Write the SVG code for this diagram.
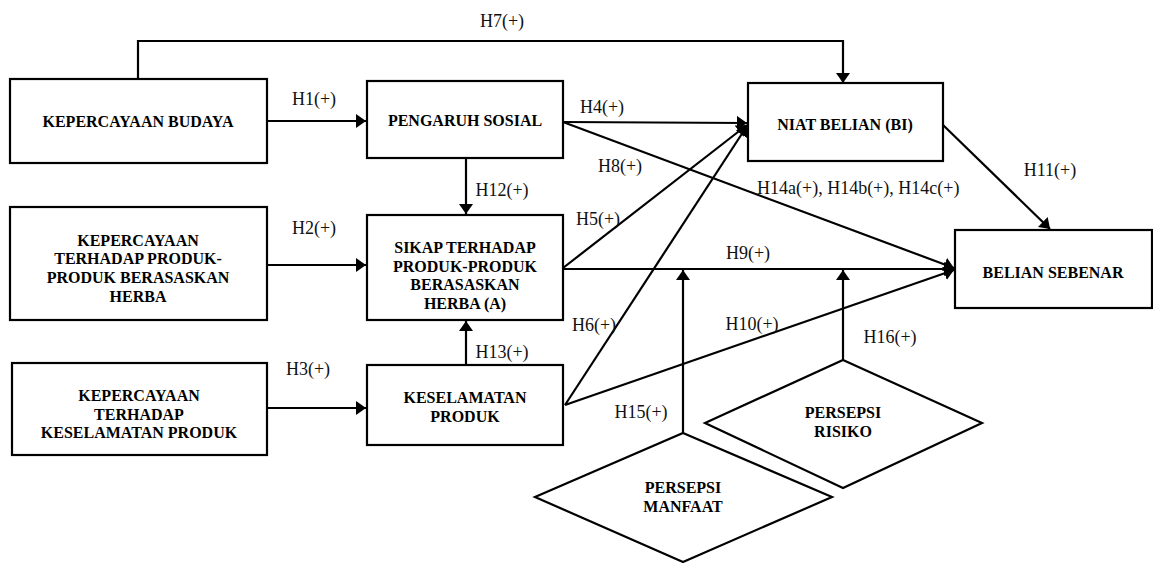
<svg xmlns="http://www.w3.org/2000/svg" width="1153" height="563" viewBox="0 0 1153 563">
<style>
.box{fill:#fff;stroke:#000;stroke-width:2.2}
.t{font-family:"Liberation Serif","Times New Roman",serif;font-weight:bold;font-size:16px;text-anchor:middle;fill:#000}
.l{font-family:"Liberation Serif","Times New Roman",serif;font-size:18px;fill:#111}
.c{fill:none;stroke:#000;stroke-width:2.2}
.m{text-anchor:middle}
</style>
<defs>
<marker id="a" viewBox="0 0 10 14" refX="10" refY="7" markerWidth="4.6" markerHeight="6.4" markerUnits="strokeWidth" orient="auto">
<path d="M0,0 L10,7 L0,14 z" fill="#000"/>
</marker>
</defs>
<rect width="1153" height="563" fill="#fff"/>
<g id="connectors">
<polyline class="c" points="138,79 138,41 843,41 843,83" marker-end="url(#a)"/>
<line class="c" x1="267" y1="121" x2="366" y2="121" marker-end="url(#a)"/>
<line class="c" x1="267" y1="265" x2="366" y2="265" marker-end="url(#a)"/>
<line class="c" x1="267" y1="408" x2="366" y2="408" marker-end="url(#a)"/>
<line class="c" x1="563" y1="122" x2="747" y2="123" marker-end="url(#a)"/>
<line class="c" x1="563" y1="268" x2="747" y2="125" marker-end="url(#a)"/>
<line class="c" x1="565" y1="405" x2="747" y2="126" marker-end="url(#a)"/>
<line class="c" x1="563" y1="122" x2="954" y2="268" marker-end="url(#a)"/>
<line class="c" x1="563" y1="269" x2="954" y2="269" marker-end="url(#a)"/>
<line class="c" x1="565" y1="405" x2="954" y2="270" marker-end="url(#a)"/>
<line class="c" x1="943" y1="125" x2="1050" y2="229" marker-end="url(#a)"/>
<line class="c" x1="466" y1="158" x2="466" y2="214" marker-end="url(#a)"/>
<line class="c" x1="466" y1="365" x2="466" y2="321" marker-end="url(#a)"/>
<line class="c" x1="683" y1="433" x2="683" y2="270" marker-end="url(#a)"/>
<line class="c" x1="843" y1="360" x2="843" y2="270" marker-end="url(#a)"/>
<text class="l m" x="502" y="27">H7(+)</text>
<text class="l m" x="314" y="105">H1(+)</text>
<text class="l m" x="314" y="234">H2(+)</text>
<text class="l m" x="308" y="375">H3(+)</text>
<text class="l m" x="602" y="113">H4(+)</text>
<text class="l m" x="598" y="225">H5(+)</text>
<text class="l m" x="594" y="331">H6(+)</text>
<text class="l m" x="620" y="172">H8(+)</text>
<text class="l m" x="748" y="259">H9(+)</text>
<text class="l m" x="752" y="330">H10(+)</text>
<text class="l m" x="1050" y="176">H11(+)</text>
<text class="l m" x="502" y="196">H12(+)</text>
<text class="l m" x="502" y="358">H13(+)</text>
<text class="l" x="757" y="194">H14a(+), H14b(+), H14c(+)</text>
<text class="l m" x="641" y="418">H15(+)</text>
<text class="l m" x="890" y="343">H16(+)</text>
</g>
<g id="kepercayaan-budaya">
<rect class="box" x="10" y="79" width="257" height="84"/>
<text class="t" x="138" y="126.5">KEPERCAYAAN BUDAYA</text>
</g>
<g id="kepercayaan-herba">
<rect class="box" x="10" y="207" width="257" height="113"/>
<text class="t" x="138" y="245.5">KEPERCAYAAN</text>
<text class="t" x="138" y="264">TERHADAP PRODUK-</text>
<text class="t" x="138" y="282.5">PRODUK BERASASKAN</text>
<text class="t" x="138" y="301.5">HERBA</text>
</g>
<g id="kepercayaan-keselamatan">
<rect class="box" x="12" y="363" width="255" height="92"/>
<text class="t" x="139" y="400.5">KEPERCAYAAN</text>
<text class="t" x="139" y="419.5">TERHADAP</text>
<text class="t" x="139" y="437.5">KESELAMATAN PRODUK</text>
</g>
<g id="pengaruh-sosial">
<rect class="box" x="367" y="81" width="196" height="77"/>
<text class="t" x="465" y="125.5">PENGARUH SOSIAL</text>
</g>
<g id="sikap">
<rect class="box" x="367" y="215" width="196" height="105"/>
<text class="t" x="465" y="252.5">SIKAP TERHADAP</text>
<text class="t" x="465" y="271.5">PRODUK-PRODUK</text>
<text class="t" x="465" y="289.5">BERASASKAN</text>
<text class="t" x="465" y="308.5">HERBA (A)</text>
</g>
<g id="keselamatan-produk">
<rect class="box" x="367" y="365" width="196" height="80"/>
<text class="t" x="465" y="402.5">KESELAMATAN</text>
<text class="t" x="465" y="421.5">PRODUK</text>
</g>
<g id="niat-belian">
<rect class="box" x="748" y="83" width="195" height="78"/>
<text class="t" x="845" y="130">NIAT BELIAN (BI)</text>
</g>
<g id="belian-sebenar">
<rect class="box" x="955" y="230" width="197" height="78"/>
<text class="t" x="1053" y="277.5">BELIAN SEBENAR</text>
</g>
<g id="persepsi-manfaat">
<polygon class="box" points="683,433 832,497 683,562 535,497"/>
<text class="t" x="683" y="492.5">PERSEPSI</text>
<text class="t" x="683" y="511.5">MANFAAT</text>
</g>
<g id="persepsi-risiko">
<polygon class="box" points="843,360 982,423 843,488 705,423"/>
<text class="t" x="843" y="417.5">PERSEPSI</text>
<text class="t" x="843" y="436.5">RISIKO</text>
</g>
</svg>
